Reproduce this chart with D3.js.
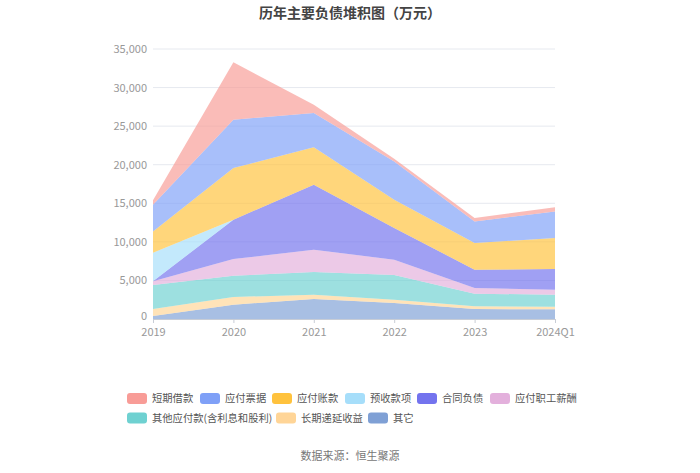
<!DOCTYPE html>
<html><head><meta charset="utf-8">
<script src="https://cdn.jsdelivr.net/npm/d3@7"></script>
<style>
html,body{margin:0;padding:0;background:#fff;}
svg{display:block;font-family:"Noto Sans CJK SC","Noto Sans",sans-serif;}
</style></head>
<body><svg id="c" width="700" height="473"></svg>
<script>
const categories = ["2019","2020","2021","2022","2023","2024Q1"];
const seriesNames = ["其它","长期递延收益","其他应付款(含利息和股利)","应付职工薪酬","合同负债","预收款项","应付账款","应付票据","短期借款"];
const s_qita      = [400, 1850, 2590, 2070, 1300, 1250];
const s_changqi   = [900, 1000, 560, 430, 340, 350];
const s_qitayingfu= [3100, 2750, 2940, 3200, 1640, 1550];
const s_zhigong   = [500, 2170, 2890, 1990, 740, 650];
const s_hetong    = [0, 5100, 8430, 4110, 2370, 2680];
const s_yushou    = [3700, 0, 0, 0, 0, 0];
const s_zhangkuan = [2750, 6700, 4840, 3670, 3460, 4020];
const s_piaoju    = [3450, 6260, 4450, 4960, 2800, 3450];
const s_duanqi    = [600, 7440, 1080, 350, 440, 520];
const yTicks = [0,5000,10000,15000,20000,25000,30000,35000];
const legendOrder = ["短期借款","应付票据","应付账款","预收款项","合同负债","应付职工薪酬","其他应付款(含利息和股利)","长期递延收益","其它"];

const colors = {
  "短期借款":"#f89c97","应付票据":"#7fa0f7","应付账款":"#ffc23d","预收款项":"#a6defa",
  "合同负债":"#7373ee","应付职工薪酬":"#e3b0dc","其他应付款(含利息和股利)":"#6fd1d1",
  "长期递延收益":"#ffd597","其它":"#7fa0d5"
};
const seriesVals = [s_qita,s_changqi,s_qitayingfu,s_zhigong,s_hetong,s_yushou,s_zhangkuan,s_piaoju,s_duanqi];
const table = categories.map((c,i)=>{const o={cat:c};seriesNames.forEach((n,k)=>o[n]=seriesVals[k][i]);return o;});

const svg = d3.select("#c");
const L=153,R=555,T=49,B=319;
const x = d3.scalePoint().domain(categories).range([L,R]);
const y = d3.scaleLinear().domain([0,35000]).range([B,T]);

svg.append("text").attr("x",350).attr("y",18).attr("text-anchor","middle")
  .attr("font-size",14).attr("font-weight","bold").attr("fill","#444").text("历年主要负债堆积图（万元）");

// grid
svg.append("g").selectAll("line").data(yTicks.filter(d=>d>0)).join("line")
  .attr("x1",L).attr("x2",R).attr("y1",d=>y(d)).attr("y2",d=>y(d))
  .attr("stroke","#e6e9ef").attr("stroke-width",1);

const stack = d3.stack().keys(seriesNames)(table);
const area = d3.area().x(d=>x(d.data.cat)).y0(d=>y(d[0])).y1(d=>y(d[1]));
svg.append("g").selectAll("path").data(stack).join("path")
  .attr("d",area).attr("fill",d=>colors[d.key]).attr("fill-opacity",0.68).attr("stroke","none");

// y axis
const ya = svg.append("g").attr("transform",`translate(${L},0)`)
  .call(d3.axisLeft(y).tickValues(yTicks).tickFormat(d3.format(",")).tickSize(0).tickPadding(6));
ya.select(".domain").remove();
ya.selectAll("text").attr("fill","#999").attr("font-size",11).style("font-family","'Noto Sans CJK SC',sans-serif");
ya.selectAll(".tick").filter(d=>d===0).select("text").attr("dy","0.05em");

// x axis
const xa = svg.append("g").attr("transform",`translate(0,${B})`)
  .call(d3.axisBottom(x).tickSize(4).tickPadding(5));
xa.select(".domain").attr("stroke","#c8cdd6");
xa.selectAll(".tick line").attr("stroke","#c8cdd6");
xa.selectAll("text").attr("fill","#999").attr("font-size",11).style("font-family","'Noto Sans CJK SC',sans-serif");

// legend (layout positions)
const legendX = [127,200,272,345,417,490,127,276,368];
const legendRow = [0,0,0,0,0,0,1,1,1];
const rowY = [398.5, 418];
legendOrder.forEach((name,i)=>{
  const g = svg.append("g");
  const cx = legendX[i], cy = rowY[legendRow[i]];
  g.append("rect").attr("x",cx).attr("y",cy-5.5).attr("width",20).attr("height",11).attr("rx",3)
    .attr("fill",colors[name]);
  g.append("text").attr("x",cx+25).attr("y",cy+3.8).attr("font-size",10.3).attr("fill","#555").text(name);
});

svg.append("text").attr("x",350).attr("y",460).attr("text-anchor","middle")
  .attr("font-size",11).attr("fill","#777").text("数据来源：恒生聚源");
</script></body></html>
